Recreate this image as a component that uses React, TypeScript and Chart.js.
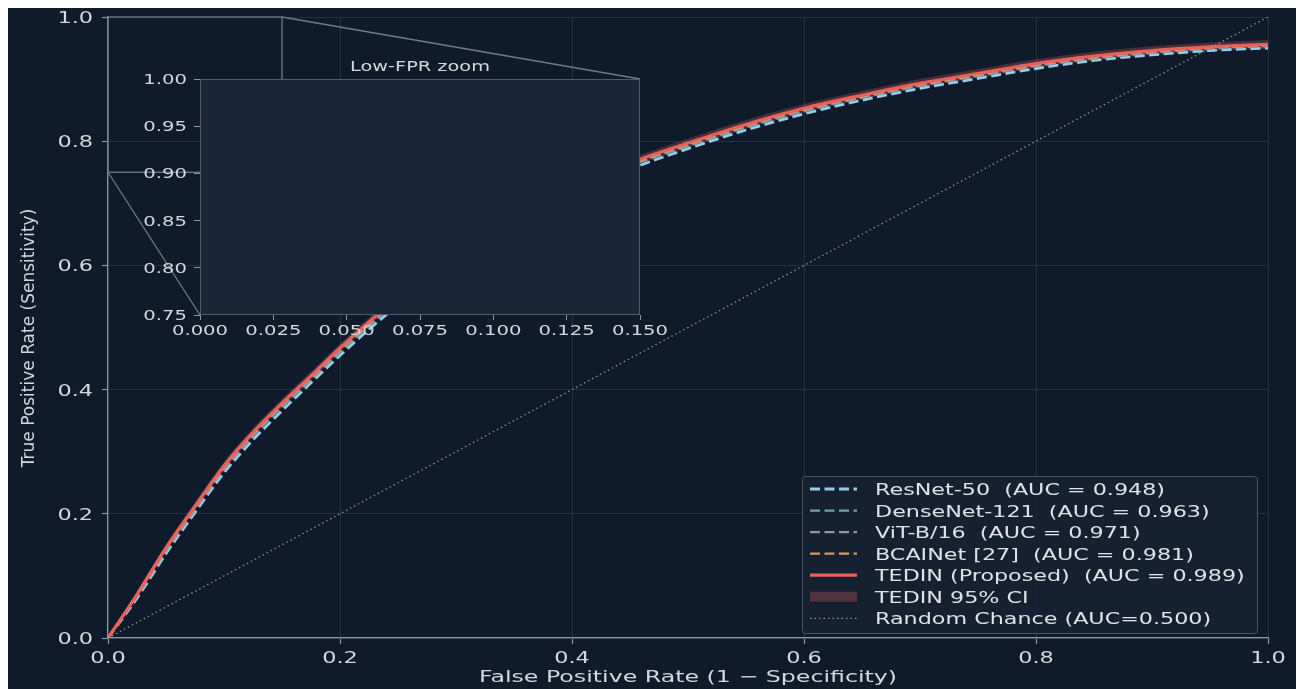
import React, { useEffect, useRef } from "react";
import { Chart, registerables } from "chart.js";

Chart.register(...registerables);

// Shared false-positive-rate operating points for every ROC curve
const FPR = [
  0, 0.025, 0.05, 0.075, 0.1, 0.125, 0.15, 0.175, 0.2, 0.225, 0.25, 0.3, 0.35,
  0.4, 0.45, 0.5, 0.55, 0.6, 0.65, 0.7, 0.75, 0.8, 0.85, 0.9, 0.95, 1.0,
];

// True positive rate per model at the FPR points above
const TPR_RESNET50 = [
  0, 0.064, 0.136, 0.202, 0.266, 0.319, 0.366, 0.411, 0.455, 0.497, 0.536, 0.605,
  0.666, 0.716, 0.755, 0.788, 0.818, 0.844, 0.866, 0.885, 0.901, 0.917, 0.93,
  0.939, 0.946, 0.95,
];
const TPR_DENSENET121 = [
  0, 0.067, 0.14, 0.206, 0.271, 0.325, 0.372, 0.416, 0.46, 0.502, 0.541, 0.61,
  0.671, 0.721, 0.76, 0.792, 0.822, 0.848, 0.87, 0.889, 0.905, 0.921, 0.933,
  0.942, 0.949, 0.953,
];
const TPR_VIT_B16 = [
  0, 0.068, 0.142, 0.208, 0.273, 0.327, 0.374, 0.418, 0.463, 0.505, 0.544, 0.613,
  0.673, 0.723, 0.762, 0.794, 0.824, 0.85, 0.871, 0.89, 0.906, 0.922, 0.934,
  0.943, 0.95, 0.954,
];
const TPR_BCAINET = [
  0, 0.069, 0.143, 0.21, 0.275, 0.329, 0.376, 0.42, 0.465, 0.507, 0.546, 0.615,
  0.675, 0.725, 0.763, 0.795, 0.825, 0.851, 0.872, 0.891, 0.907, 0.923, 0.935,
  0.944, 0.951, 0.955,
];
const TPR_TEDIN = [
  0, 0.07, 0.145, 0.212, 0.277, 0.331, 0.378, 0.422, 0.467, 0.509, 0.548, 0.617,
  0.677, 0.727, 0.765, 0.797, 0.827, 0.853, 0.874, 0.893, 0.909, 0.925, 0.937,
  0.946, 0.952, 0.956,
];
// TEDIN 95% confidence band
const TEDIN_CI_LOW = [
  0, 0.065, 0.139, 0.205, 0.27, 0.324, 0.371, 0.415, 0.46, 0.502, 0.541, 0.61,
  0.67, 0.72, 0.758, 0.79, 0.82, 0.846, 0.867, 0.886, 0.902, 0.918, 0.93, 0.939,
  0.945, 0.949,
];
const TEDIN_CI_HIGH = [
  0, 0.075, 0.151, 0.219, 0.284, 0.338, 0.385, 0.429, 0.474, 0.516, 0.555, 0.624,
  0.684, 0.734, 0.772, 0.804, 0.834, 0.86, 0.881, 0.9, 0.916, 0.932, 0.944,
  0.953, 0.959, 0.963,
];

// Chance diagonal
const CHANCE_FPR = [0, 1];
const CHANCE_TPR = [0, 1];

// Axis ranges and tick steps
const MAIN_RANGE = [0, 1];
const MAIN_STEP = 0.2;
const INSET_FPR_RANGE = [0, 0.15];
const INSET_TPR_RANGE = [0.75, 1.0];
const INSET_FPR_STEP = 0.025;
const INSET_TPR_STEP = 0.05;

const LABEL_RESNET = "ResNet-50  (AUC = 0.948)";
const LABEL_DENSENET = "DenseNet-121  (AUC = 0.963)";
const LABEL_VIT = "ViT-B/16  (AUC = 0.971)";
const LABEL_BCAINET = "BCAINet [27]  (AUC = 0.981)";
const LABEL_TEDIN = "TEDIN (Proposed)  (AUC = 0.989)";
const LABEL_CI = "TEDIN 95% CI";
const LABEL_CHANCE = "Random Chance (AUC=0.500)";

const X_TITLE = "False Positive Rate (1 \u2212 Specificity)";
const Y_TITLE = "True Positive Rate (Sensitivity)";
const INSET_TITLE = "Low-FPR zoom";

// Palette
const BG = "#0f1a2a";
const INSET_BG = "#1b2738";
const GRID = "#253143";
const SPINE = "#8e98a5";
const TEXT = "#d3d8de";
const C_RESNET = "#97cdea";
const C_DENSENET = "#6fa3a4";
const C_VIT = "#9d8db6";
const C_BCAINET = "#d49b58";
const C_TEDIN = "#e8625b";
const C_CI = "rgba(232, 98, 91, 0.28)";
const C_CHANCE = "#8a939f";
const DASH = [10, 4.5];
const DOTS = [1.5, 3];

const FONT = "'DejaVu Sans', Verdana, sans-serif";

// Inset canvas placement inside the figure
const INSET_LEFT = 120;
const INSET_TOP = 45;
const INSET_W = 560;
const INSET_H = 290;

const FIG_W = 1296;
const FIG_H = 681;

function points(xs: number[], ys: number[]) {
  return xs.map((x, i) => ({ x, y: ys[i] }));
}

function buildDatasets() {
  return [
    {
      label: LABEL_CHANCE,
      data: points(CHANCE_FPR, CHANCE_TPR),
      borderColor: C_CHANCE,
      borderWidth: 1.3,
      borderDash: DOTS,
      order: -1,
    },
    {
      label: LABEL_TEDIN,
      data: points(FPR, TPR_TEDIN),
      borderColor: C_TEDIN,
      borderWidth: 3.2,
      order: 0,
    },
    {
      label: LABEL_BCAINET,
      data: points(FPR, TPR_BCAINET),
      borderColor: C_BCAINET,
      borderWidth: 2.4,
      borderDash: DASH,
      order: 1,
    },
    {
      label: LABEL_VIT,
      data: points(FPR, TPR_VIT_B16),
      borderColor: C_VIT,
      borderWidth: 2.2,
      borderDash: DASH,
      order: 2,
    },
    {
      label: LABEL_DENSENET,
      data: points(FPR, TPR_DENSENET121),
      borderColor: C_DENSENET,
      borderWidth: 2.2,
      borderDash: DASH,
      order: 3,
    },
    {
      label: LABEL_RESNET,
      data: points(FPR, TPR_RESNET50),
      borderColor: C_RESNET,
      borderWidth: 2.8,
      borderDash: DASH,
      order: 4,
    },
    {
      label: LABEL_CI,
      data: points(FPR, TEDIN_CI_HIGH),
      borderColor: "rgba(0,0,0,0)",
      backgroundColor: C_CI,
      fill: "+1",
      order: 5,
    },
    {
      label: LABEL_CI + " (lower)",
      data: points(FPR, TEDIN_CI_LOW),
      borderColor: "rgba(0,0,0,0)",
      fill: false,
      order: 6,
    },
  ];
}

const LEGEND_ITEMS = [
  { text: LABEL_RESNET, kind: "line", color: C_RESNET, width: 2.8, dash: DASH },
  { text: LABEL_DENSENET, kind: "line", color: C_DENSENET, width: 2.2, dash: DASH },
  { text: LABEL_VIT, kind: "line", color: C_VIT, width: 2.2, dash: DASH },
  { text: LABEL_BCAINET, kind: "line", color: C_BCAINET, width: 2.4, dash: DASH },
  { text: LABEL_TEDIN, kind: "line", color: C_TEDIN, width: 3.2, dash: [] },
  { text: LABEL_CI, kind: "band", color: C_CI, width: 0, dash: [] },
  { text: LABEL_CHANCE, kind: "line", color: C_CHANCE, width: 1.3, dash: DOTS },
];

// Text with a horizontal stretch (wide sans lettering)
function drawText(
  ctx: CanvasRenderingContext2D,
  text: string,
  x: number,
  y: number,
  size: number,
  stretch: number,
  align: CanvasTextAlign,
  color: string,
  rotate = 0
) {
  ctx.save();
  ctx.font = `${size}px ${FONT}`;
  ctx.fillStyle = color;
  ctx.textAlign = align;
  ctx.textBaseline = "alphabetic";
  ctx.translate(x, y);
  if (rotate) ctx.rotate(rotate);
  ctx.scale(stretch, 1);
  ctx.fillText(text, 0, 0);
  ctx.restore();
}

function line(ctx: CanvasRenderingContext2D, x1: number, y1: number, x2: number, y2: number) {
  ctx.beginPath();
  ctx.moveTo(x1, y1);
  ctx.lineTo(x2, y2);
  ctx.stroke();
}

export default function App() {
  const mainRef = useRef<HTMLCanvasElement | null>(null);
  const insetRef = useRef<HTMLCanvasElement | null>(null);

  useEffect(() => {
    document.documentElement.style.overflow = "hidden";
    if (!mainRef.current || !insetRef.current) return;

    const insetDecor = {
      id: "insetDecor",
      beforeDraw(chart: any) {
        const { ctx, chartArea: a } = chart;
        ctx.save();
        ctx.fillStyle = INSET_BG;
        ctx.fillRect(a.left, a.top, a.right - a.left, a.bottom - a.top);
        ctx.restore();
      },
      afterDraw(chart: any) {
        const { ctx, chartArea: a, scales } = chart;
        ctx.save();
        ctx.strokeStyle = "#4e5a6b";
        ctx.lineWidth = 1;
        ctx.strokeRect(a.left + 0.5, a.top + 0.5, a.right - a.left - 1, a.bottom - a.top - 1);
        ctx.restore();
        scales.x.ticks.forEach((t: any) => {
          drawText(ctx, t.value.toFixed(3), scales.x.getPixelForValue(t.value), a.bottom + 20, 14, 1.4, "center", TEXT);
        });
        scales.y.ticks.forEach((t: any) => {
          drawText(ctx, t.value.toFixed(2), a.left - 13, scales.y.getPixelForValue(t.value) + 5, 14, 1.4, "right", TEXT);
        });
        drawText(ctx, INSET_TITLE, (a.left + a.right) / 2, a.top - 8, 14, 1.38, "center", TEXT);
      },
    };

    const inset = new Chart(insetRef.current, {
      type: "line",
      data: { datasets: buildDatasets() as any },
      options: {
        responsive: false,
        animation: false,
        devicePixelRatio: 1,
        events: [],
        elements: { point: { radius: 0 }, line: { cubicInterpolationMode: "monotone", fill: false } },
        layout: { padding: { left: 0, right: 48, top: 26, bottom: 0 } },
        plugins: { legend: { display: false }, tooltip: { enabled: false } },
        scales: {
          x: {
            type: "linear",
            min: INSET_FPR_RANGE[0],
            max: INSET_FPR_RANGE[1],
            ticks: { display: false, stepSize: INSET_FPR_STEP },
            grid: { drawOnChartArea: false, drawTicks: true, tickLength: 5, tickColor: SPINE, tickWidth: 1 },
            border: { display: false },
            afterFit: (s: any) => {
              s.height = 28;
            },
          },
          y: {
            type: "linear",
            min: INSET_TPR_RANGE[0],
            max: INSET_TPR_RANGE[1],
            ticks: { display: false, stepSize: INSET_TPR_STEP },
            grid: { drawOnChartArea: false, drawTicks: true, tickLength: 6, tickColor: SPINE, tickWidth: 1 },
            border: { display: false },
            afterFit: (s: any) => {
              s.width = 72;
            },
          },
        },
      } as any,
      plugins: [insetDecor],
    });

    const mainDecor = {
      id: "mainDecor",
      beforeDraw(chart: any) {
        const { ctx } = chart;
        ctx.save();
        ctx.fillStyle = BG;
        ctx.fillRect(0, 0, chart.width, chart.height);
        ctx.restore();
      },
      afterDraw(chart: any) {
        const { ctx, chartArea: a, scales } = chart;
        const sx = scales.x;
        const sy = scales.y;

        // tick labels
        sx.ticks.forEach((t: any) => {
          drawText(ctx, t.value.toFixed(1), sx.getPixelForValue(t.value), a.bottom + 25, 16, 1.4, "center", TEXT);
        });
        sy.ticks.forEach((t: any) => {
          drawText(ctx, t.value.toFixed(1), a.left - 15, sy.getPixelForValue(t.value) + 6, 16, 1.4, "right", TEXT);
        });

        // axis titles
        drawText(ctx, X_TITLE, (a.left + a.right) / 2, a.bottom + 44, 16, 1.48, "center", TEXT);
        drawText(ctx, Y_TITLE, 26, 330, 17, 1, "center", TEXT, -Math.PI / 2);

        // zoomed region and connectors to the inset axes
        const zx0 = sx.getPixelForValue(INSET_FPR_RANGE[0]);
        const zx1 = sx.getPixelForValue(INSET_FPR_RANGE[1]);
        const zy0 = sy.getPixelForValue(INSET_TPR_RANGE[0]);
        const zy1 = sy.getPixelForValue(INSET_TPR_RANGE[1]);
        const ia = inset.chartArea;
        const iLeft = INSET_LEFT + ia.left;
        const iRight = INSET_LEFT + ia.right;
        const iTop = INSET_TOP + ia.top;
        const iBottom = INSET_TOP + ia.bottom;
        ctx.save();
        ctx.strokeStyle = "#6f7b8b";
        ctx.lineWidth = 1.3;
        ctx.strokeRect(zx0, zy1, zx1 - zx0, zy0 - zy1);
        line(ctx, zx1, zy1, iRight, iTop);
        line(ctx, zx0, zy0, iLeft, iBottom);
        ctx.restore();

        // legend
        const boxW = 455;
        const boxH = 157;
        const bx = a.right - 11 - boxW;
        const by = a.bottom - 5 - boxH;
        ctx.save();
        ctx.fillStyle = "rgba(22, 33, 50, 0.92)";
        ctx.strokeStyle = "#465366";
        ctx.lineWidth = 1;
        ctx.beginPath();
        ctx.roundRect(bx + 0.5, by + 0.5, boxW, boxH, 3);
        ctx.fill();
        ctx.stroke();
        LEGEND_ITEMS.forEach((item, i) => {
          const cy = by + 13 + i * 21.55;
          const hx0 = bx + 8;
          const hx1 = bx + 55;
          if (item.kind === "band") {
            ctx.fillStyle = item.color;
            ctx.fillRect(hx0, cy - 5, hx1 - hx0, 10);
          } else {
            ctx.strokeStyle = item.color;
            ctx.lineWidth = item.width;
            ctx.setLineDash(item.dash);
            line(ctx, hx0, cy, hx1, cy);
            ctx.setLineDash([]);
          }
          drawText(ctx, item.text, bx + 73, cy + 6, 16, 1.39, "left", "#dfe3e8");
        });
        ctx.restore();
      },
    };

    const main = new Chart(mainRef.current, {
      type: "line",
      data: { datasets: buildDatasets() as any },
      options: {
        responsive: false,
        animation: false,
        devicePixelRatio: 1,
        events: [],
        elements: { point: { radius: 0 }, line: { cubicInterpolationMode: "monotone", fill: false } },
        layout: { padding: { left: 0, right: 36, top: 9, bottom: 0 } },
        plugins: { legend: { display: false }, tooltip: { enabled: false } },
        scales: {
          x: {
            type: "linear",
            min: MAIN_RANGE[0],
            max: MAIN_RANGE[1],
            ticks: { display: false, stepSize: MAIN_STEP },
            grid: { color: GRID, lineWidth: 1, drawTicks: true, tickLength: 6, tickColor: SPINE, tickWidth: 1.2 },
            border: { display: true, color: SPINE, width: 1.2 },
            afterFit: (s: any) => {
              s.height = 51;
            },
          },
          y: {
            type: "linear",
            min: MAIN_RANGE[0],
            max: MAIN_RANGE[1],
            ticks: { display: false, stepSize: MAIN_STEP },
            grid: { color: GRID, lineWidth: 1, drawTicks: true, tickLength: 6, tickColor: SPINE, tickWidth: 1.2 },
            border: { display: true, color: SPINE, width: 1.2 },
            afterFit: (s: any) => {
              s.width = 100;
            },
          },
        },
      } as any,
      plugins: [mainDecor],
    });

    return () => {
      main.destroy();
      inset.destroy();
    };
  }, []);

  return (
    <div style={{ position: "relative", width: FIG_W, height: FIG_H }}>
      <canvas ref={mainRef} width={FIG_W} height={FIG_H} style={{ display: "block" }} />
      <canvas
        ref={insetRef}
        width={INSET_W}
        height={INSET_H}
        style={{ position: "absolute", left: INSET_LEFT, top: INSET_TOP, display: "block" }}
      />
    </div>
  );
}
